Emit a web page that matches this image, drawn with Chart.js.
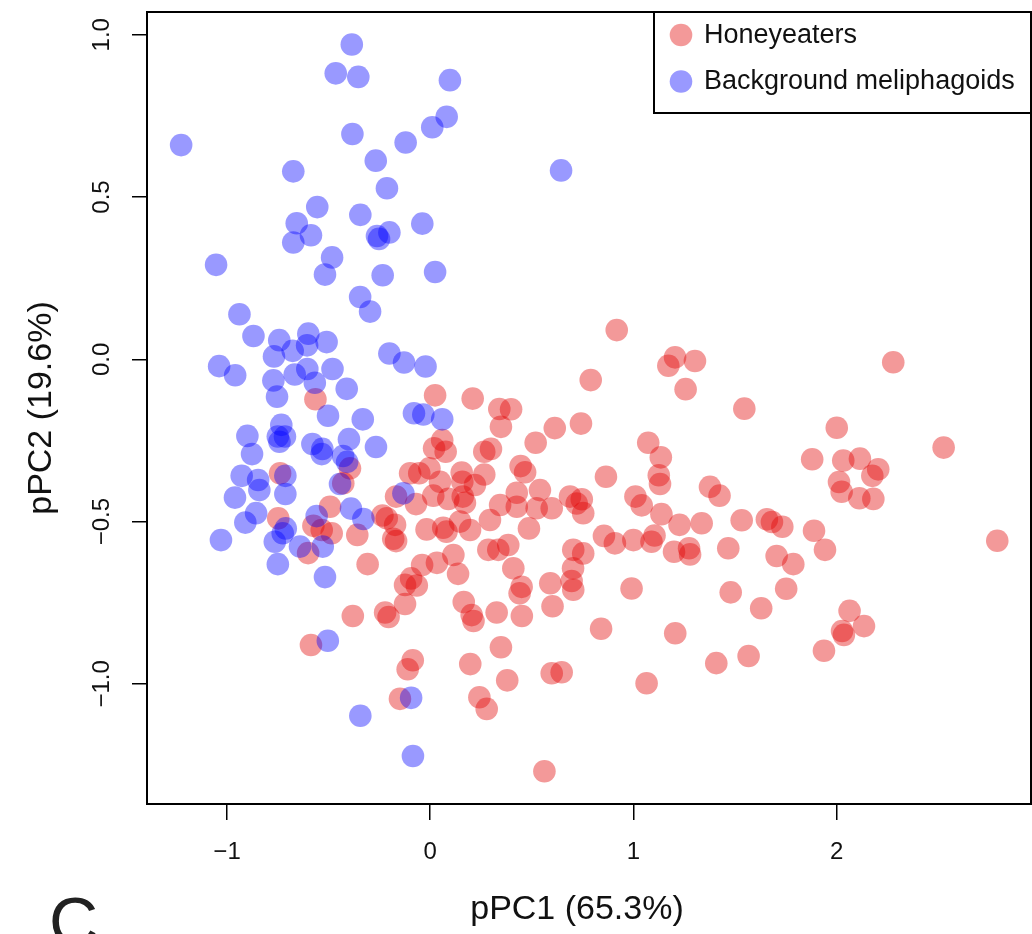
<!DOCTYPE html>
<html>
<head>
<meta charset="utf-8">
<title>pPCA Honeyeaters</title>
<script src="https://cdn.jsdelivr.net/npm/chart.js"></script>
<style>
  html, body { margin: 0; padding: 0; background: #fff; }
  #wrap { width: 1032px; height: 934px; }
</style>
</head>
<body>
<div id="wrap"><canvas id="pcaChart" width="1032" height="934"></canvas></div>
<script>
// Daten
const seriesLabels = ['Honeyeaters', 'Background meliphagoids'];

const honeyPC1 = [
  -0.565, 0.024, 0.209, 0.340, 0.398, 0.348, 0.613, 0.742, 0.918, 1.205,
  1.172, 1.303, 1.257, 0.790, 1.546, 2.279, 2.001, 2.527, 0.059, 0.019,
  0.076, 0.519, 1.073, 1.135, 0.266, 0.299, 0.445, 0.467, 0.155, 0.266,
  -0.004, -0.054, -0.099, 0.048, 0.158, 0.220, 1.125, 1.131, 0.865, -0.168,
  -0.070, 0.015, 0.089, 0.160, 0.171, 0.426, 0.540, 0.426, 0.344, 0.524,
  0.598, 0.688, 0.746, 0.721, 0.753, 1.010, 1.041, 1.138, 1.377, 1.424,
  -0.214, -0.173, -0.182, -0.018, 0.064, 0.080, 0.147, 0.196, 0.294, 0.486,
  0.286, 0.335, 0.384, 0.409, 0.450, 0.440, 0.591, 0.602, 0.704, 0.753,
  0.703, 0.696, 0.704, 0.855, 0.909, 1.000, 1.104, 1.089, 1.227, 1.336,
  1.200, 1.274, 1.279, 0.991, 1.467, 0.114, 0.137, -0.040, 0.033, -0.094,
  -0.066, -0.124, -0.222, 0.165, 0.204, 0.213, 0.327, 0.451, 0.841, -0.395,
  -0.739, -0.428, -0.748, -0.493, -0.575, -0.534, -0.485, -0.359, -0.235, -0.168,
  -0.601, -0.308, -0.124, -0.381, -0.205, -0.587, 0.348, -0.086, -0.111, 0.197,
  0.379, 0.598, 0.647, 1.065, -0.149, 0.242, 0.278, 0.562, 1.880, 2.033,
  2.115, 2.205, 2.176, 2.012, 2.025, 2.112, 2.181, 1.533, 1.657, 1.682,
  1.733, 1.889, 1.943, 1.705, 1.787, 2.791, 1.479, 1.752, 1.629, 1.206,
  2.064, 2.135, 2.027, 2.036, 1.938, 1.408, 1.567
];
const honeyPC2 = [
  -0.123, -0.111, -0.121, -0.153, -0.154, -0.208, -0.212, -0.198, 0.090, 0.006,
  -0.020, -0.005, -0.092, -0.064, -0.152, -0.009, -0.211, -0.272, -0.249, -0.274,
  -0.285, -0.257, -0.257, -0.302, -0.285, -0.276, -0.329, -0.348, -0.349, -0.355,
  -0.336, -0.351, -0.351, -0.377, -0.377, -0.387, -0.357, -0.384, -0.362, -0.423,
  -0.446, -0.420, -0.430, -0.423, -0.442, -0.411, -0.403, -0.454, -0.449, -0.459,
  -0.459, -0.423, -0.431, -0.444, -0.474, -0.423, -0.450, -0.477, -0.393, -0.420,
  -0.490, -0.510, -0.553, -0.524, -0.519, -0.531, -0.500, -0.526, -0.495, -0.521,
  -0.587, -0.587, -0.572, -0.644, -0.701, -0.721, -0.690, -0.761, -0.587, -0.598,
  -0.644, -0.683, -0.710, -0.544, -0.567, -0.557, -0.543, -0.562, -0.510, -0.505,
  -0.593, -0.582, -0.601, -0.706, -0.582, -0.603, -0.661, -0.634, -0.627, -0.675,
  -0.697, -0.754, -0.780, -0.748, -0.788, -0.806, -0.780, -0.791, -0.830, -0.336,
  -0.351, -0.382, -0.490, -0.454, -0.513, -0.526, -0.536, -0.541, -0.481, -0.560,
  -0.597, -0.631, -0.695, -0.791, -0.794, -0.880, -0.887, -0.927, -0.955, -0.939,
  -0.989, -0.967, -0.964, -0.998, -1.046, -1.041, -1.077, -1.269, -0.308, -0.312,
  -0.306, -0.339, -0.359, -0.378, -0.408, -0.428, -0.430, -0.496, -0.493, -0.501,
  -0.516, -0.528, -0.587, -0.606, -0.631, -0.559, -0.718, -0.707, -0.767, -0.844,
  -0.775, -0.822, -0.837, -0.849, -0.898, -0.936, -0.914
];

const backPC1 = [
  -1.226, -0.386, -0.465, -0.354, 0.097, 0.081, 0.010, -0.383, -0.121, -0.268,
  -0.674, -0.213, -0.556, -0.344, -0.657, -0.039, -0.587, -0.674, -0.262, -0.252,
  -0.201, -0.483, -0.518, -0.234, 0.024, -1.054, -0.345, -0.296, -0.939, -0.870,
  -0.743, -0.600, -0.606, -0.510, -0.677, -0.769, -0.201, -0.129, -0.023, -1.039,
  -0.960, -0.605, -0.481, -0.667, -0.772, -0.568, -0.411, -0.754, -0.503, -0.332,
  -0.080, -0.034, 0.059, -0.733, -0.900, -0.750, -0.715, -0.742, -0.580, -0.531,
  -0.534, -0.400, -0.267, -0.877, -0.429, -0.409, -0.928, -0.847, -0.841, -0.713,
  -0.713, -0.961, -0.444, -0.857, -0.910, -0.559, -0.390, -0.329, -0.711, -0.726,
  -0.765, -0.641, -0.529, -1.030, -0.750, -0.518, -0.132, -0.504, -0.094, -0.344,
  -0.085, 0.644
];
const backPC2 = [
  0.660, 0.970, 0.881, 0.870, 0.860, 0.747, 0.715, 0.694, 0.668, 0.612,
  0.579, 0.527, 0.469, 0.445, 0.419, 0.418, 0.382, 0.360, 0.380, 0.371,
  0.391, 0.314, 0.261, 0.259, 0.269, 0.291, 0.192, 0.147, 0.139, 0.072,
  0.059, 0.079, 0.043, 0.053, 0.026, 0.009, 0.018, -0.010, -0.022, -0.021,
  -0.049, -0.030, -0.030, -0.047, -0.065, -0.072, -0.091, -0.115, -0.174, -0.185,
  -0.166, -0.170, -0.185, -0.202, -0.236, -0.238, -0.238, -0.254, -0.261, -0.276,
  -0.292, -0.246, -0.270, -0.292, -0.298, -0.316, -0.359, -0.372, -0.403, -0.359,
  -0.415, -0.426, -0.384, -0.474, -0.503, -0.483, -0.460, -0.492, -0.521, -0.536,
  -0.562, -0.577, -0.577, -0.557, -0.631, -0.671, -0.413, -0.867, -1.043, -1.098,
  -1.222, 0.582
];

const xTickValues = [-1, 0, 1, 2];
const yTickValues = [-1.0, -0.5, 0.0, 0.5, 1.0];
const xTitle = 'pPC1 (65.3%)';
const yTitle = 'pPC2 (19.6%)';
const panelLabel = 'C';

Chart.defaults.font.family = '"Liberation Sans", Arial, sans-serif';

// Zahlen mit echtem Minuszeichen
function fmt(v, digits) {
  const s = Math.abs(v).toFixed(digits);
  return v < 0 ? '\u2212' + s : s;
}

function toPoints(xs, ys) {
  return xs.map((x, i) => ({ x: x, y: ys[i] }));
}

// Rahmen um die Zeichenfläche
const framePlugin = {
  id: 'frame',
  afterDatasetsDraw(chart) {
    const { ctx, chartArea: a } = chart;
    ctx.save();
    ctx.strokeStyle = '#000';
    ctx.lineWidth = 2;
    ctx.strokeRect(a.left, a.top, a.right - a.left, a.bottom - a.top);
    ctx.restore();
  }
};

// Legende oben rechts, x-Achsentitel und Panel-Buchstabe
const legendPlugin = {
  id: 'boxLegend',
  afterDraw(chart) {
    const { ctx, chartArea: a } = chart;
    const boxLeft = 654;
    const boxBottom = 113;
    ctx.save();
    ctx.fillStyle = '#fff';
    ctx.fillRect(boxLeft, a.top, a.right - boxLeft, boxBottom - a.top);
    ctx.strokeStyle = '#000';
    ctx.lineWidth = 2;
    ctx.strokeRect(boxLeft, a.top, a.right - boxLeft, boxBottom - a.top);

    chart.data.datasets.forEach((ds, i) => {
      const cy = a.top + 23 + i * 46.5;
      ctx.fillStyle = ds.backgroundColor;
      ctx.beginPath();
      ctx.arc(681, cy, 11.3, 0, Math.PI * 2);
      ctx.fill();
      ctx.fillStyle = '#111';
      ctx.font = '27px "Liberation Sans", Arial, sans-serif';
      ctx.textBaseline = 'middle';
      ctx.textAlign = 'left';
      ctx.fillText(ds.label, 704, cy + 0.5);
    });

    // x-Titel etwas links der Mitte wie im Original
    ctx.fillStyle = '#111';
    ctx.font = '34px "Liberation Sans", Arial, sans-serif';
    ctx.textAlign = 'center';
    ctx.textBaseline = 'middle';
    ctx.fillText(xTitle, 577, 910);

    ctx.fillStyle = '#222';
    ctx.font = '68px "Liberation Sans", Arial, sans-serif';
    ctx.textAlign = 'left';
    ctx.textBaseline = 'alphabetic';
    ctx.fillText(panelLabel, 49, 945);
    ctx.restore();
  }
};

document.addEventListener('DOMContentLoaded', () => {
  const ctx = document.getElementById('pcaChart').getContext('2d');

  new Chart(ctx, {
    type: 'scatter',
    data: {
      datasets: [
        {
          label: seriesLabels[0],
          data: toPoints(honeyPC1, honeyPC2),
          backgroundColor: 'rgba(225, 0, 0, 0.4)',
          borderWidth: 0,
          pointRadius: 11.3,
          pointHoverRadius: 11.3,
          order: 1
        },
        {
          label: seriesLabels[1],
          data: toPoints(backPC1, backPC2),
          backgroundColor: 'rgba(0, 0, 255, 0.4)',
          borderWidth: 0,
          pointRadius: 11.3,
          pointHoverRadius: 11.3,
          order: 0
        }
      ]
    },
    options: {
      responsive: false,
      animation: false,
      devicePixelRatio: 1,
      events: [],
      layout: { autoPadding: false, padding: { left: 0, top: 12, right: 1, bottom: 0 } },
      plugins: {
        legend: { display: false },
        tooltip: { enabled: false }
      },
      scales: {
        x: {
          type: 'linear',
          position: 'bottom',
          min: -1.394,
          max: 2.957,
          afterBuildTicks: s => { s.ticks = xTickValues.map(v => ({ value: v })); },
          afterFit: s => { s.height = 130; s.paddingLeft = 0; s.paddingRight = 0; },
          grid: { drawOnChartArea: false, drawTicks: true, tickLength: 16, color: '#000', lineWidth: 1.5 },
          border: { display: false },
          ticks: {
            color: '#111',
            font: { size: 24 },
            padding: 18,
            maxRotation: 0,
            autoSkip: false,
            callback: v => fmt(v, 0)
          },
          title: { display: false }
        },
        y: {
          type: 'linear',
          position: 'left',
          min: -1.370,
          max: 1.070,
          afterBuildTicks: s => { s.ticks = yTickValues.map(v => ({ value: v })); },
          afterFit: s => { s.width = 147; s.paddingTop = 0; s.paddingBottom = 0; },
          grid: { drawOnChartArea: false, drawTicks: true, tickLength: 15, color: '#000', lineWidth: 1.5 },
          border: { display: false },
          ticks: {
            color: '#111',
            font: { size: 24 },
            padding: 6,
            minRotation: 90,
            maxRotation: 90,
            crossAlign: 'center',
            autoSkip: false,
            callback: v => fmt(v, 1)
          },
          title: {
            display: true,
            text: yTitle,
            color: '#111',
            font: { size: 34 },
            padding: { top: 21, bottom: 0 }
          }
        }
      }
    },
    plugins: [framePlugin, legendPlugin]
  });
});
</script>
</body>
</html>
